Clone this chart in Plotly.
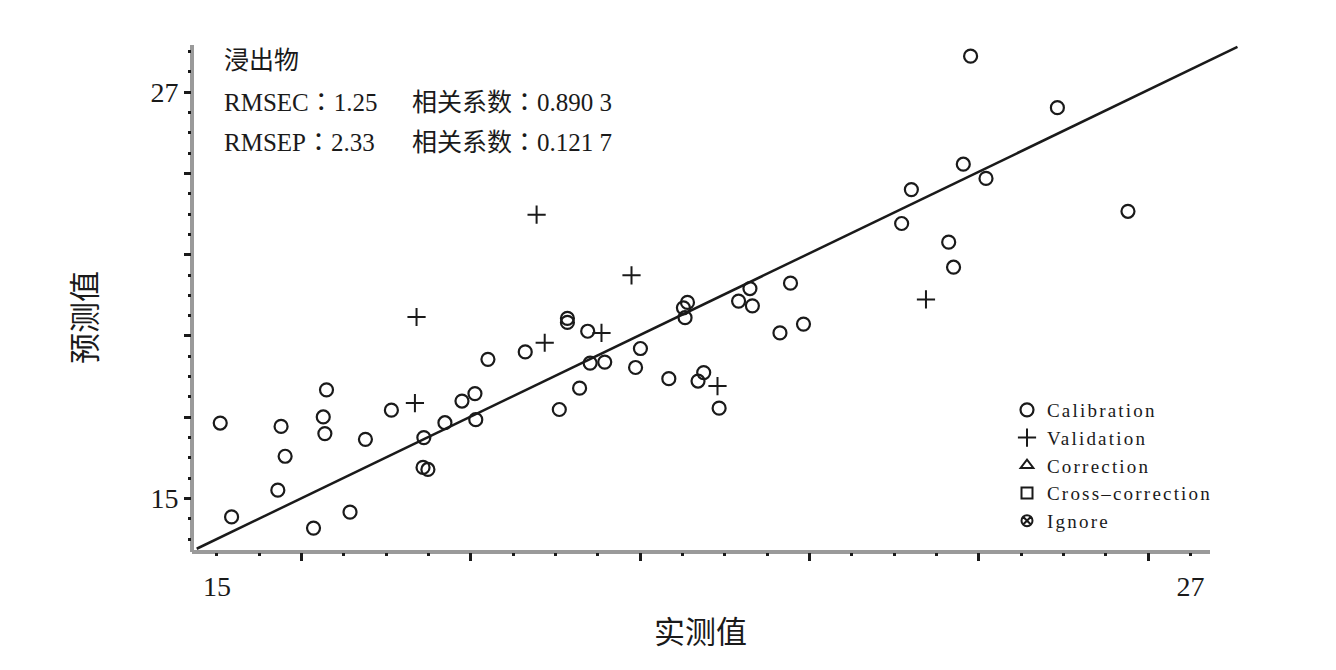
import plotly.graph_objects as go

# ---------------- data ----------------
cal_x = [15.04, 15.18, 15.75, 15.79, 15.84, 16.19, 16.31, 16.33, 16.35, 16.64,
         16.83, 17.15, 17.54, 17.60, 17.55, 17.81, 18.02, 18.18, 18.19, 18.34,
         18.80, 19.22, 19.32, 19.32, 19.47, 19.57, 19.60, 19.78, 20.16, 20.22,
         20.57, 20.80, 20.75, 20.77, 20.93, 21.00, 21.19, 21.43, 21.57, 21.60,
         21.94, 22.07, 22.23, 23.44, 23.56, 24.02, 24.08, 24.20, 24.29, 24.48,
         25.36, 26.23]
cal_y = [17.23, 14.46, 15.25, 17.13, 16.25, 14.13, 17.41, 16.92, 18.21, 14.60,
         16.75, 17.61, 15.92, 15.86, 16.80, 17.24, 17.88, 18.10, 17.33, 19.11,
         19.33, 17.63, 20.32, 20.20, 18.26, 19.94, 19.00, 19.03, 18.87, 19.43,
         18.54, 20.79, 20.63, 20.34, 18.47, 18.72, 17.67, 20.83, 21.20, 20.69,
         19.89, 21.36, 20.15, 23.12, 24.12, 22.57, 21.83, 24.87, 28.06, 24.45,
         26.54, 23.48]

val_x = [18.94, 17.46, 17.44, 19.04, 19.74, 20.11, 21.17, 23.74]
val_y = [23.38, 20.36, 17.82, 19.60, 19.89, 21.59, 18.32, 20.88]

fit_x = [14.75, 27.58]
fit_y = [13.52, 28.33]

x_label_vals = [15, 27]
x_label_text = ["15", "27"]
x_major_ticks = [15 + k * 12 / 23 for k in range(2, 24, 4)]
x_minor_ticks = [15 + k * 12 / 23 for k in range(0, 24) if (k - 2) % 4 != 0 and k not in (0, 23)]

y_major_ticks = [15, 17.4, 19.8, 22.2, 24.6, 27]
y_major_text = ["15", "", "", "", "", "27"]
y_minor_ticks = [round(13.8 + 0.6 * k, 2) for k in range(0, 25)]
y_minor_ticks = [v for v in y_minor_ticks if all(abs(v - m) > 1e-6 for m in y_major_ticks)]

legend_names = ["Calibration", "Validation", "Correction", "Cross–correction", "Ignore"]

title_text = "浸出物"
stat_left = [("RMSEC", "1.25"), ("RMSEP", "2.33")]
stat_right = [("相关系数", "0.890 3"), ("相关系数", "0.121 7")]
x_title = "实测值"
y_title = "预测值"

# ---------------- layout geometry ----------------
OFF = 8  # default page body margin
W, H = 1336 - OFF, 670 - OFF
ML, MR, MT, MB = 192 - OFF, 96, 45 - OFF, 118
PW, PH = W - ML - MR, H - MT - MB
X0 = 14.692
Y0 = 13.424
XPX, YPX = 81.12, 33.88
x_range = [X0, X0 + PW / XPX]
y_range = [Y0, Y0 + PH / YPX]


def px(xp):
    return (xp - OFF - ML) / PW


def py(yp):
    return (H - MB - (yp - OFF)) / PH


SERIF = "Liberation Serif, Noto Sans CJK SC, serif"
INK = "#1a1a1a"
COLON = "<span style='font-family:Noto Sans CJK JP'>：</span>"


def leg(name):
    return "<span style='letter-spacing:2.2px'>" + name + "</span>"


fig = go.Figure()
fig.add_trace(go.Scatter(
    x=fit_x, y=fit_y, mode="lines", line=dict(color=INK, width=2.5),
    showlegend=False, hoverinfo="skip"))
fig.add_trace(go.Scatter(
    x=cal_x, y=cal_y, mode="markers", name=leg(legend_names[0]),
    marker=dict(symbol="circle-open", size=13, color=INK, line=dict(width=2.2, color=INK))))
fig.add_trace(go.Scatter(
    x=val_x, y=val_y, mode="markers", name=leg(legend_names[1]),
    marker=dict(symbol="cross-thin-open", size=13, color=INK, line=dict(width=2, color=INK))))
fig.add_trace(go.Scatter(
    x=[None], y=[None], mode="markers", name=leg(legend_names[2]), xaxis="x2",
    marker=dict(symbol="triangle-up-open", size=11, color=INK, line=dict(width=2, color=INK))))
fig.add_trace(go.Scatter(
    x=[None], y=[None], mode="markers", name=leg(legend_names[3]), xaxis="x2",
    marker=dict(symbol="square-open", size=11, color=INK, line=dict(width=2, color=INK))))
fig.add_trace(go.Scatter(
    x=[None], y=[None], mode="markers", name=leg(legend_names[4]), xaxis="x2",
    marker=dict(symbol="circle-x-open", size=11, color=INK, line=dict(width=2, color=INK))))

fig.update_layout(
    width=W, height=H,
    margin=dict(l=ML, r=MR, t=MT, b=MB, pad=0),
    paper_bgcolor="white", plot_bgcolor="white",
    font=dict(family=SERIF, color=INK, size=20),
    xaxis=dict(
        range=x_range, showgrid=False, zeroline=False, showline=False,
        tickmode="array", tickvals=x_label_vals, ticktext=x_label_text,
        ticks="outside", ticklen=3, tickwidth=3, tickcolor=INK,
        ticklabelstandoff=6,
        tickfont=dict(family=SERIF, size=28, color=INK),
        minor=dict(tickmode="array", tickvals=x_minor_ticks, ticks="outside",
                   ticklen=3, tickwidth=3, tickcolor=INK, showgrid=False),
    ),
    xaxis2=dict(
        range=x_range, overlaying="x", anchor="y", side="bottom",
        showgrid=False, zeroline=False, showline=False,
        tickmode="array", tickvals=x_major_ticks, showticklabels=False,
        ticks="outside", ticklen=8, tickwidth=3, tickcolor=INK,
    ),
    yaxis=dict(
        range=y_range, showgrid=False, zeroline=False, showline=False,
        tickmode="array", tickvals=y_major_ticks, ticktext=y_major_text,
        ticks="outside", ticklen=7, tickwidth=3, tickcolor=INK,
        tickfont=dict(family=SERIF, size=28, color=INK),
        minor=dict(tickmode="array", tickvals=y_minor_ticks, ticks="outside",
                   ticklen=3, tickwidth=3, tickcolor=INK, showgrid=False),
    ),
    legend=dict(
        x=px(1007), y=py(391), xanchor="left", yanchor="top",
        bgcolor="rgba(0,0,0,0)", borderwidth=0,
        font=dict(family=SERIF, size=19, color=INK),
        itemsizing="trace",
    ),
    shapes=[
        dict(type="line", xref="paper", yref="paper", x0=0, x1=px(1210), y0=0, y1=0,
             line=dict(color="#9a9a9a", width=4), layer="below"),
        dict(type="line", xref="paper", yref="paper", x0=0, x1=0, y0=0, y1=1,
             line=dict(color="#9a9a9a", width=4), layer="below"),
    ],
)

ann = [
    dict(text=title_text, x=px(222), y=py(60)),
    dict(text=stat_left[0][0] + COLON + stat_left[0][1], x=px(222), y=py(100)),
    dict(text=stat_right[0][0] + COLON + stat_right[0][1], x=px(410), y=py(100)),
    dict(text=stat_left[1][0] + COLON + stat_left[1][1], x=px(222), y=py(140)),
    dict(text=stat_right[1][0] + COLON + stat_right[1][1], x=px(410), y=py(140)),
]
for a in ann:
    fig.add_annotation(xref="paper", yref="paper", xanchor="left", yanchor="middle",
                       showarrow=False, font=dict(family=SERIF, size=25, color=INK), **a)

fig.add_annotation(text=x_title, xref="paper", yref="paper", x=px(700), y=py(632),
                   xanchor="center", yanchor="middle", showarrow=False,
                   font=dict(family=SERIF, size=31, color=INK))
fig.add_annotation(text=y_title, xref="paper", yref="paper", x=px(85), y=py(318),
                   xanchor="center", yanchor="middle", showarrow=False, textangle=-90,
                   font=dict(family=SERIF, size=31, color=INK))

fig.write_html("out.html")
